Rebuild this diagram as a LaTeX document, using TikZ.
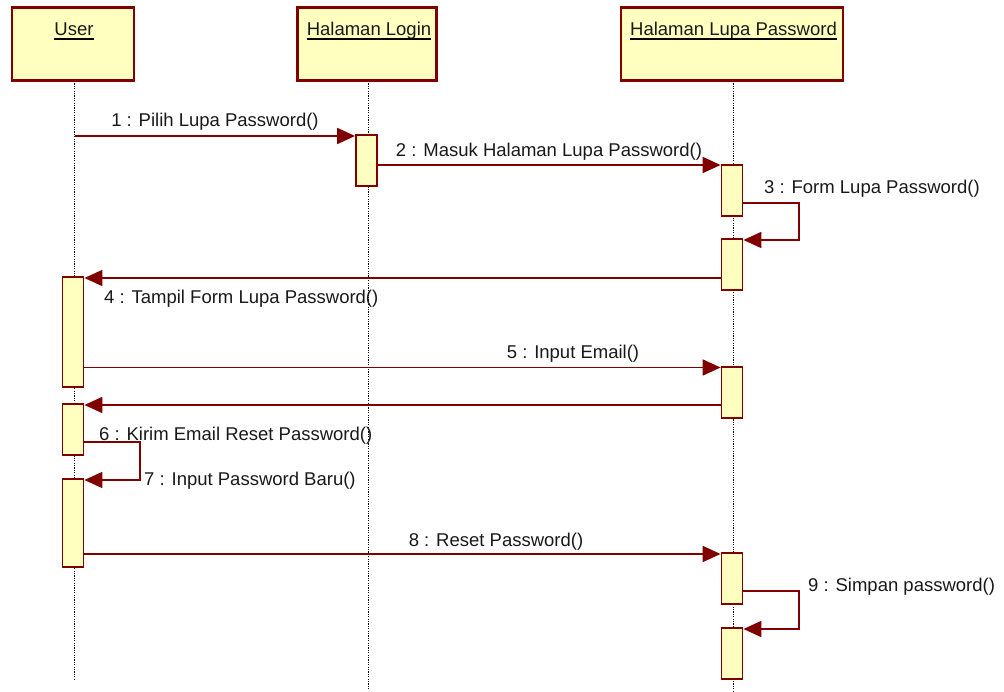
\documentclass[tikz,border=0pt]{standalone}
\usepackage{fontspec}
\setmainfont{Liberation Sans}
\usetikzlibrary{arrows.meta}
\definecolor{umlred}{RGB}{128,0,0}
\definecolor{umlfill}{RGB}{255,255,192}
\begin{document}
\begin{tikzpicture}[x=1pt,y=-1pt,
  every node/.style={font=\fontsize{18.5}{22}\selectfont, inner sep=0pt},
  objbox/.style={draw=umlred, fill=umlfill, line width=2.2pt, rectangle},
  actbar/.style={draw=umlred, fill=umlfill, line width=1.8pt, rectangle, minimum width=21pt},
  lifeline/.style={black, line width=0.9pt, dash pattern=on 1.2pt off 1.2pt},
  msg/.style={umlred, line width=1.8pt, -{Triangle[length=18pt,width=16pt]}},
  lbl/.style={anchor=base, text=black!90},
  uline/.style={black, line width=1.1pt}]
\useasboundingbox (0,0) rectangle (1004,692);
% lifelines
\draw[lifeline] (74,81) -- (74,680);
\draw[lifeline] (368,81) -- (368,689);
\draw[lifeline] (733,81) -- (733,691);
% object boxes
\node[objbox, minimum width=122pt, minimum height=73pt] (oU) at (73,44) {};
\node[objbox, minimum width=139pt, minimum height=73pt] (oL) at (367,44) {};
\node[objbox, minimum width=222pt, minimum height=73pt] (oP) at (732,44) {};
\node[lbl] (tU) at (74,36) {User};
\node[lbl] (tL) at (369,36) {Halaman Login};
\node[lbl] (tP) at (733.5,36) {Halaman Lupa Password};
\draw[uline] ([yshift=-3pt]tU.base west) -- ([yshift=-3pt]tU.base east);
\draw[uline] ([yshift=-3pt]tL.base west) -- ([yshift=-3pt]tL.base east);
\draw[uline] ([yshift=-3pt]tP.base west) -- ([yshift=-3pt]tP.base east);
% activation bars
\node[actbar, minimum height=51pt] (bL1) at (366.5,160.5) {};
\node[actbar, minimum height=51pt] (bP1) at (732,190.5) {};
\node[actbar, minimum height=51pt] (bP2) at (732,264.5) {};
\node[actbar, minimum height=110pt] (bU1) at (73,332) {};
\node[actbar, minimum height=51pt] (bP3) at (732,392.5) {};
\node[actbar, minimum height=51pt] (bU2) at (73,429.5) {};
\node[actbar, minimum height=88pt] (bU3) at (73,523) {};
\node[actbar, minimum height=51pt] (bP4) at (732,578.5) {};
\node[actbar, minimum height=51pt] (bP5) at (732,653.5) {};
% messages
\coordinate (s1) at (75,136);
\draw[msg] (s1) -- (bL1.west |- s1);
\node[lbl] (m1) at (215,126.5) {1 : Pilih Lupa Password()};
\draw[msg] (bL1.east |- 0,165) -- (bP1.west |- 0,165);
\node[lbl] (m2) at (549,156.5) {2 : Masuk Halaman Lupa Password()};
\draw[msg] (bP1.east |- 0,203) -- (799,203) -- (799,240) -- (bP2.east |- 0,240);
\node[lbl, anchor=base west] (m3) at (764,194) {3 : Form Lupa Password()};
\draw[msg] (bP2.west |- 0,278) -- (bU1.east |- 0,278);
\node[lbl, anchor=base west] (m4) at (104,304) {4 : Tampil Form Lupa Password()};
\draw[msg] (bU1.east |- 0,367.5) -- (bP3.west |- 0,367.5);
\node[lbl] (m5) at (573,359) {5 : Input Email()};
\draw[msg] (bP3.west |- 0,405) -- (bU2.east |- 0,405);
\node[lbl, anchor=base west] (m6) at (99,440) {6 : Kirim Email Reset Password()};
\draw[msg] (bU2.east |- 0,442) -- (140,442) -- (140,480) -- (bU3.east |- 0,480);
\node[lbl, anchor=base west] (m7) at (144,485) {7 : Input Password Baru()};
\draw[msg] (bU3.east |- 0,554) -- (bP4.west |- 0,554);
\node[lbl] (m8) at (496,546.5) {8 : Reset Password()};
\draw[msg] (bP4.east |- 0,591) -- (799,591) -- (799,629) -- (bP5.east |- 0,629);
\node[lbl, anchor=base west] (m9) at (808,591) {9 : Simpan password()};
\end{tikzpicture}
\end{document}
